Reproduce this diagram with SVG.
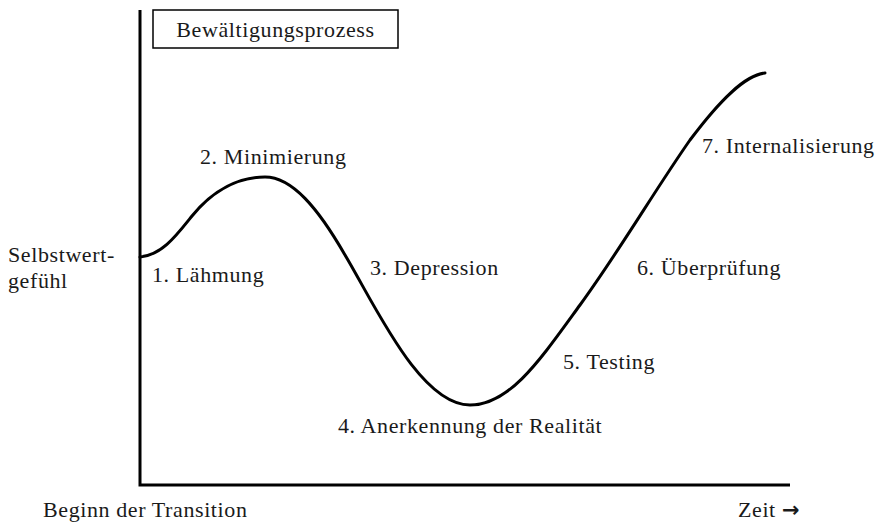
<svg xmlns="http://www.w3.org/2000/svg" width="877" height="525" viewBox="0 0 877 525">
<style>
text{font-family:"Liberation Serif","Times New Roman",serif;font-size:22px;letter-spacing:0.6px;fill:#1a1a1a}
.axis{fill:none;stroke:#000;stroke-width:3}
.curve{fill:none;stroke:#000;stroke-width:3;stroke-linecap:round}
.arr{font-family:"DejaVu Sans",sans-serif;font-weight:bold;font-size:21px}
</style>
<rect width="877" height="525" fill="#fff"/>
<g id="axes">
<path class="axis" d="M140,10 V485 H790"/>
</g>
<g id="title">
<rect x="153" y="10" width="245" height="38" fill="#fff" stroke="#000" stroke-width="1.5"/>
<text x="275.5" y="37" text-anchor="middle">Bewältigungsprozess</text>
</g>
<g id="connectors">
<path class="curve" d="M140,257 C162,255 176,236 192,216 C214,189 240,177 265,177 C292,177 318,208 345,255 C375,305 420,405 470,405 C510,405 540,360 580,305 C620,250 655,190 690,140 C720,100 745,75 765,73"/>
</g>
<g id="ylabel"><text x="8" y="262">Selbstwert-</text><text x="8" y="288">gefühl</text></g>
<g id="s1"><text x="152" y="282">1. Lähmung</text></g>
<g id="s2"><text x="200" y="164">2. Minimierung</text></g>
<g id="s3"><text x="370" y="275">3. Depression</text></g>
<g id="s4"><text x="338" y="433">4. Anerkennung der Realität</text></g>
<g id="s5"><text x="563" y="369">5. Testing</text></g>
<g id="s6"><text x="637" y="275">6. Überprüfung</text></g>
<g id="s7"><text x="702" y="153">7. Internalisierung</text></g>
<g id="xstart"><text x="43" y="517">Beginn der Transition</text></g>
<g id="xend"><text x="738" y="517">Zeit <tspan class="arr">→</tspan></text></g>
</svg>
